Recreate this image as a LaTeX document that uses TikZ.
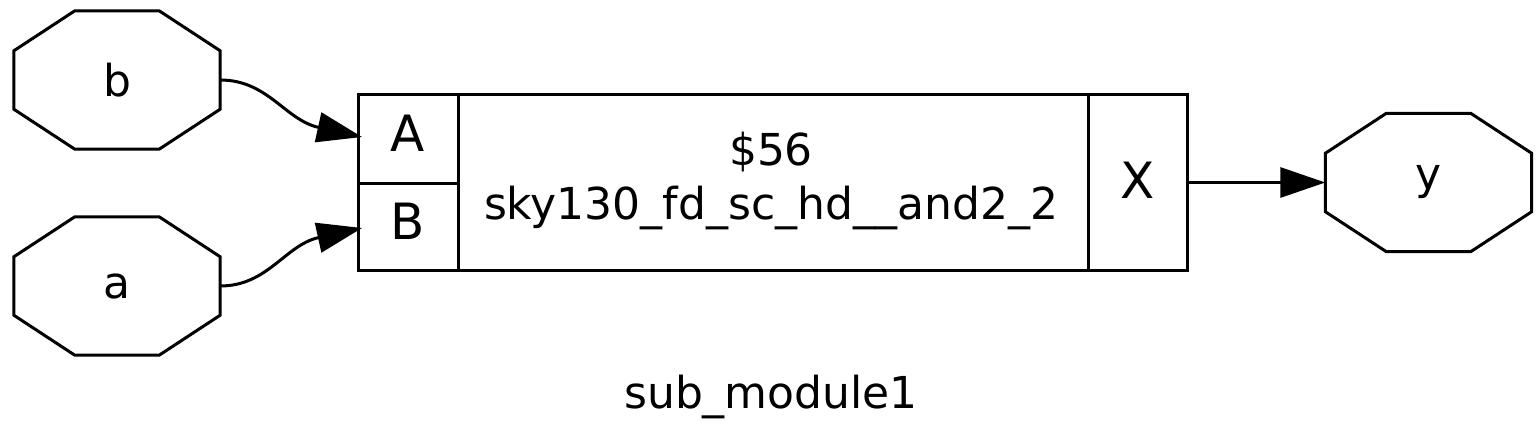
\documentclass[tikz,border=0pt]{standalone}
\usepackage{fontspec}
\setmainfont{DejaVu Sans}
\usetikzlibrary{arrows.meta,calc}
\tikzset{
  wire/.style={line width=3pt,-{Triangle[length=45pt,width=30pt]}},
  octabox/.style={minimum width=206pt,minimum height=138pt,inner sep=0pt,font=\fontsize{44}{50}\selectfont},
  lbl/.style={inner sep=0pt,font=\fontsize{44}{50}\selectfont},
  portlbl/.style={inner sep=0pt,font=\fontsize{50}{58}\selectfont},
  outline/.style={line width=3pt,line join=miter}
}
\newcommand{\octa}[1]{%
  \draw[outline] ($(#1.north west)+(61,0)$) -- ($(#1.north east)+(-61,0)$)
    -- ($(#1.north east)+(0,40)$) -- ($(#1.south east)+(0,-40)$)
    -- ($(#1.south east)+(-61,0)$) -- ($(#1.south west)+(61,0)$)
    -- ($(#1.south west)+(0,-40)$) -- ($(#1.north west)+(0,40)$) -- cycle;}
\begin{document}
\begin{tikzpicture}[x=1pt,y=-1pt]
\useasboundingbox (0,0) rectangle (1539,425);
% input / output ports
\node[octabox] (b) at (117,80) {b};
\node[octabox] (a) at (117,286) {a};
\node[octabox] (y) at (1428.5,182.5) {y};
\octa{b}\octa{a}\octa{y}
% cell
\node[draw,line width=3pt,minimum width=829pt,minimum height=175pt,inner sep=0pt] (cell) at (772.5,182.5) {};
\draw[outline] (458,95) -- (458,270);
\draw[outline] (1088,95) -- (1088,270);
\draw[outline] (358,183) -- (458,183);
\node[portlbl] (A) at (408,133) {A};
\node[portlbl] (B) at (408,221) {B};
\node[portlbl] (X) at (1137.5,180) {X};
\node[lbl] (nm) at (771,152) {\$56};
\node[lbl] (ty) at (771,208) {sky130\_fd\_sc\_hd\_\_and2\_2};
\coordinate (pA) at (362,137);
\coordinate (pB) at (362,228);
\coordinate (pX) at (1187,182.5);
% wires
\draw[wire] (b.east) .. controls (268,80) and (285,120) .. (pA);
\draw[wire] (a.east) .. controls (268,286) and (285,245) .. (pB);
\draw[wire] (pX) -- (y.west);
% title
\node[lbl] (title) at (771,397) {sub\_module1};
\end{tikzpicture}
\end{document}
